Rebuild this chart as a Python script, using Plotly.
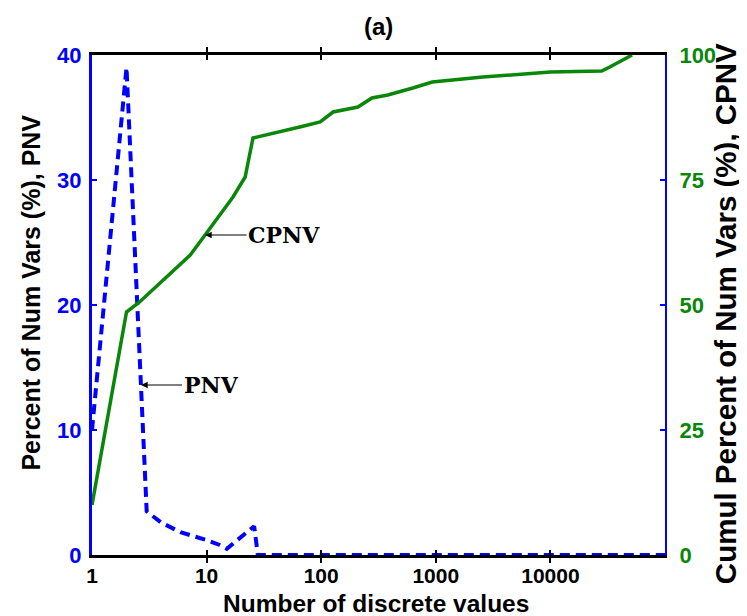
import numpy as np
import plotly.graph_objects as go

# ---- data ----
pnv_x = [1, 2, 3, 4, 6, 10, 13, 15, 26, 28, 100000]
pnv_y = [10, 39, 3.5, 2.6, 1.8, 1.2, 0.8, 0.5, 2.3, 0, 0]

cpnv_x = [1, 2, 2.6, 3.9, 7.2, 9.7, 17, 21.7, 25.4, 65, 98, 127, 209, 277,
          381, 630, 931, 2570, 10000, 28000, 33000, 51600]
cpnv_y = [10, 48.6, 50.6, 54.4, 60, 64, 71.6, 75.6, 83.4, 85.6, 86.6, 88.6,
          89.6, 91.4, 92, 93.4, 94.6, 95.6, 96.6, 96.8, 97.6, 100]

x_ticks = [1, 10, 100, 1000, 10000]
x_tick_labels = ["1", "10", "100", "1000", "10000"]
left_ticks = [0, 10, 20, 30, 40]
right_ticks = [0, 25, 50, 75, 100]

BLUE = "#0000ff"
GREEN = "#0a870a"
SANS = "Liberation Sans, Arial, sans-serif"
SERIF = "DejaVu Serif, serif"

fig = go.Figure()
fig.add_trace(go.Scatter(x=pnv_x, y=pnv_y, mode="lines", name="PNV",
                         line=dict(color=BLUE, width=4, dash="10px,6px"),
                         yaxis="y"))
fig.add_trace(go.Scatter(x=cpnv_x, y=cpnv_y, mode="lines", name="CPNV",
                         line=dict(color=GREEN, width=3.5),
                         yaxis="y2"))

tickfont = dict(family=SANS, size=22, weight="bold")

# page body has an 8px margin, so the figure is sized to fit the 747x616 window
fig.update_layout(
    width=739, height=608, autosize=False,
    margin=dict(l=84, r=82, t=47, b=61),
    plot_bgcolor="white", paper_bgcolor="white",
    showlegend=False,
    xaxis=dict(type="log", range=[0, 5], tickvals=x_ticks, ticktext=x_tick_labels,
               showgrid=False, zeroline=False, showline=True, linecolor="black",
               linewidth=3, mirror="allticks", ticks="inside", ticklen=5,
               tickwidth=2, tickcolor="black", ticklabelstandoff=0,
               tickfont=dict(tickfont, size=21, color="black")),
    yaxis=dict(range=[0, 40], tickvals=left_ticks, showgrid=False, zeroline=False,
               showline=True, linecolor=BLUE, linewidth=3, ticks="inside",
               ticklen=5, tickwidth=2, tickcolor=BLUE, ticklabelstandoff=3,
               tickfont=dict(tickfont, color=BLUE)),
    yaxis2=dict(range=[0, 100], tickvals=right_ticks, overlaying="y", side="right",
                showgrid=False, zeroline=False, showline=True, linecolor=BLUE,
                linewidth=2, ticks="inside", ticklen=5, tickwidth=2, tickcolor=BLUE,
                ticklabelstandoff=8,
                tickfont=dict(tickfont, color=GREEN)),
)

annos = [
    dict(text="<b>(a)</b>", xref="paper", yref="paper", x=0.5, y=1.056,
         showarrow=False, font=dict(family=SANS, size=24, color="black"),
         xanchor="center", yanchor="middle"),
    dict(text="Number of discrete values", xref="paper", yref="paper", x=0.496,
         y=-0.097, showarrow=False,
         font=dict(family=SANS, size=24.5, color="black", weight="bold"),
         xanchor="center", yanchor="middle"),
    dict(text="Percent of Num Vars (%), PNV", xref="paper", yref="paper",
         x=-0.108, y=0.525, textangle=-90, showarrow=False,
         font=dict(family=SANS, size=25, color="black", weight="bold"),
         xanchor="center", yanchor="middle"),
    dict(text="Cumul Percent of Num Vars (%), CPNV", xref="paper", yref="paper",
         x=1.105, y=0.482, textangle=-90, showarrow=False,
         font=dict(family=SANS, size=29.5, color="black", weight="bold"),
         xanchor="center", yanchor="middle"),
    dict(text="CPNV", xref="x", yref="y2", x=np.log10(cpnv_x[5]), y=cpnv_y[5],
         ax=79, ay=0, showarrow=True, arrowhead=2, arrowsize=1.1, arrowwidth=1.2,
         arrowcolor="black",
         font=dict(family=SERIF, size=22, color="black", weight="bold")),
    dict(text="PNV", xref="x", yref="y", x=np.log10(2.68), y=13.6,
         ax=70, ay=0, showarrow=True, arrowhead=2, arrowsize=1.1, arrowwidth=1.2,
         arrowcolor="black",
         font=dict(family=SERIF, size=22, color="black", weight="bold")),
]
fig.update_layout(annotations=annos)

fig.write_html("out.html")
